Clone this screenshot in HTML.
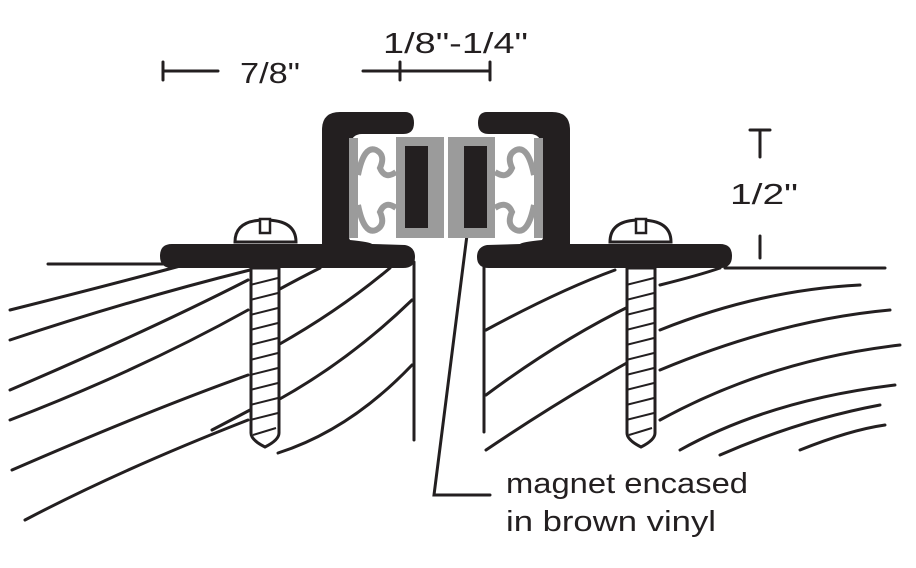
<!DOCTYPE html>
<html><head><meta charset="utf-8"><style>
html,body{margin:0;padding:0;background:#fff;}
svg{display:block}
text{font-family:"Liberation Sans",Arial,sans-serif;fill:#231f20}
</style></head><body>
<svg width="916" height="568" viewBox="0 0 916 568" xmlns="http://www.w3.org/2000/svg">
<g fill="none" stroke="#231f20" stroke-width="3" stroke-linecap="round">
<line x1="48" y1="264" x2="170" y2="264"/>
<line x1="725" y1="268" x2="885" y2="268"/>
<line x1="414" y1="262" x2="414" y2="440"/>
<line x1="484" y1="262" x2="484" y2="432"/>
<path d="M10 310 Q110 285 195 262"/>
<path d="M10 340 Q130 300 250 270"/>
<path d="M10 390 Q150 330 248 280"/>
<path d="M10 420 Q140 370 248 310"/>
<path d="M12 470 Q150 410 248 375"/>
<path d="M25 520 Q120 470 248 420"/>
<path d="M212 430 Q235 418 250 410"/>
<path d="M278 290 Q300 278 320 268"/>
<path d="M278 345 Q340 310 390 268"/>
<path d="M278 400 Q350 360 412 300"/>
<path d="M278 453 Q350 430 412 365"/>
<path d="M486 330 Q560 290 615 270"/>
<path d="M486 395 Q560 340 632 305"/>
<path d="M486 450 Q560 400 632 360"/>
<path d="M660 285 Q700 275 720 268"/>
<path d="M660 330 Q760 290 860 285"/>
<path d="M660 370 Q780 320 890 310"/>
<path d="M660 420 Q770 360 900 345"/>
<path d="M680 450 Q770 400 895 385"/>
<path d="M720 455 Q800 420 880 405"/>
<path d="M800 450 Q850 430 885 425"/>
<line x1="163" y1="62" x2="163" y2="80"/>
<line x1="163" y1="71" x2="218" y2="71"/>
<line x1="363" y1="71" x2="490" y2="71"/>
<line x1="400" y1="62" x2="400" y2="80"/>
<line x1="490" y1="62" x2="490" y2="80"/>
<line x1="750" y1="130" x2="770" y2="130"/>
<line x1="760" y1="130" x2="760" y2="157"/>
<line x1="760" y1="236" x2="760" y2="258"/>
<polyline points="467,235 434,495 490,495"/>
</g>
<g fill="#231f20">
<path d="M322 130 Q322 112 340 112 L405 112 Q414 112 414 123 Q414 134 403 134 L362 134 Q352 134 350 145 L349 238 L350 240 Q370 242 372 244 L405 245 Q415 247 415 257 Q415 268 403 268 L172 268 Q160 268 160 256 Q160 244 172 244 L322 244 Z"/>
<path d="M570 130 Q570 112 552 112 L487 112 Q478 112 478 123 Q478 134 489 134 L530 134 Q540 134 542 145 L543 238 L542 240 Q522 242 520 244 L487 245 Q477 247 477 257 Q477 268 489 268 L720 268 Q732 268 732 256 Q732 244 720 244 L570 244 Z"/>
</g>
<g fill="#9b9b9b">
<rect x="349" y="138" width="9" height="100"/>
<rect x="534" y="138" width="9" height="100"/>
<rect x="396" y="137" width="48" height="101"/>
<rect x="448" y="137" width="47" height="101"/>
</g>
<g fill="none" stroke="#9b9b9b" stroke-width="6">
<path d="M358 175 Q364 145 376 150 Q386 155 380 168 Q385 180 396 172"/>
<path d="M358 205 Q364 235 376 230 Q386 225 380 212 Q385 200 396 208"/>
<path d="M534 175 Q528 145 516 150 Q506 155 512 168 Q507 180 495 172"/>
<path d="M534 205 Q528 235 516 230 Q506 225 512 212 Q507 200 495 208"/>
</g>
<g fill="#231f20">
<rect x="405" y="146" width="23" height="82"/>
<rect x="464" y="146" width="23" height="82"/>
</g>
<g fill="#fff" stroke="#231f20" stroke-width="3">
<path d="M235 242 Q235 220 265 220 Q296 220 296 242 Z"/>
<path d="M610 242 Q610 220 640 220 Q671 220 671 242 Z"/>
<path d="M251 268 L251 433 Q251 440 265 447 Q279 440 279 433 L279 268 Z"/>
<path d="M627 268 L627 433 Q627 440 641 447 Q655 440 655 433 L655 268 Z"/>
</g>
<g fill="#fff" stroke="#231f20" stroke-width="2.5">
<rect x="260" y="219" width="10" height="14"/>
<rect x="636" y="219" width="10" height="14"/>
</g>
<g stroke="#231f20" stroke-width="2">
<path d="M250 285 L278 278 M250 300 L278 293 M250 315 L278 308 M250 330 L278 323 M250 345 L278 338 M250 360 L278 353 M250 375 L278 368 M250 390 L278 383 M250 405 L278 398 M250 420 L278 413 M253 435 L276 428"/>
<path d="M626 285 L654 278 M626 300 L654 293 M626 315 L654 308 M626 330 L654 323 M626 345 L654 338 M626 360 L654 353 M626 375 L654 368 M626 390 L654 383 M626 405 L654 398 M626 420 L654 413 M629 435 L652 428"/>
</g>
<text x="240" y="83" font-size="29" textLength="60" lengthAdjust="spacingAndGlyphs">7/8"</text>
<text x="383" y="53" font-size="29" textLength="145" lengthAdjust="spacingAndGlyphs">1/8"-1/4"</text>
<text x="730" y="204" font-size="29" textLength="68" lengthAdjust="spacingAndGlyphs">1/2"</text>
<text x="506" y="493" font-size="29" textLength="242" lengthAdjust="spacingAndGlyphs">magnet encased</text>
<text x="506" y="531" font-size="29" textLength="210" lengthAdjust="spacingAndGlyphs">in brown vinyl</text>
</svg>
</body></html>
